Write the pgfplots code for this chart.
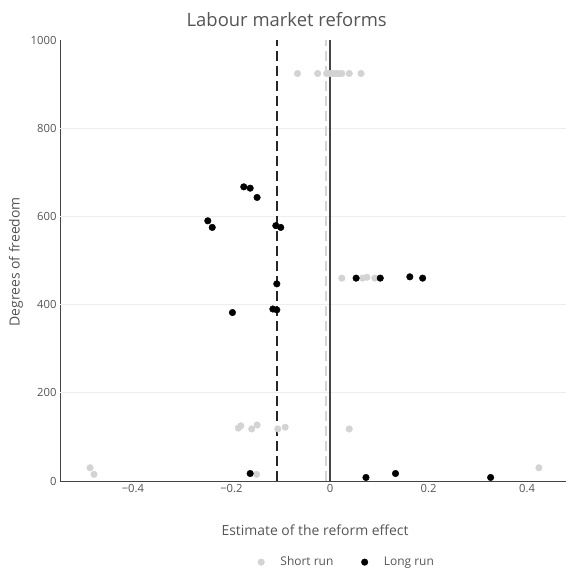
\documentclass[border=0pt]{standalone}
\usepackage{pgfplots}
\pgfplotsset{compat=1.18}
\usepackage{fontspec}
\setmainfont{Open Sans}
\definecolor{txt}{HTML}{555555}
\definecolor{lg}{HTML}{D3D3D3}
\definecolor{axc}{HTML}{444444}
\definecolor{gridc}{HTML}{EEEEEE}
\begin{document}
\begin{tikzpicture}
\path[use as bounding box] (0,0) rectangle (566bp,572bp);
\begin{axis}[
  at={(60bp,91bp)}, anchor=south west, scale only axis,
  width=506bp, height=441bp,
  xmin=-0.548, xmax=0.479, ymin=0, ymax=1000,
  axis x line=bottom, axis y line=left,
  axis line style={axc, line width=0.9pt, -},
  xtick={-0.4,-0.2,0,0.2,0.4},
  xticklabels={−0.4,−0.2,0,0.2,0.4},
  ytick={0,200,400,600,800,1000},
  yticklabels={0,200,400,600,800,1000},
  major tick length=0pt,
  /pgf/number format/assume math mode=true,
  tick label style={font=\fontsize{11.3}{13}\selectfont, text=txt},
  extra y ticks={200,400,600,800},
  extra y tick labels={},
  extra y tick style={grid=major, major grid style={gridc, line width=0.8pt}},
  clip=false,
  title={Labour market reforms},
  title style={at={(axis description cs:0.448,1.032)}, anchor=center, font=\fontsize{18.5}{21}\selectfont, text=txt},
  xlabel={Estimate of the reform effect},
  xlabel style={at={(axis description cs:0.504,-0.111)}, anchor=center, font=\fontsize{14}{17}\selectfont, text=txt},
  ylabel={Degrees of freedom},
  ylabel style={at={(axis description cs:-0.087,0.497)}, anchor=center, rotate=0, font=\fontsize{14}{17}\selectfont, text=txt},
  legend style={at={(axis description cs:0.567,-0.184)}, anchor=center, draw=none, fill=none,
    legend columns=2, font=\fontsize{12}{15}\selectfont, text=txt,
    /tikz/every odd column/.append style={column sep=14bp},
    /tikz/every even column/.append style={column sep=26bp}},
  legend cell align=left,
]
% short run
\addplot[only marks, mark=*, mark size=3.3bp, color=lg] coordinates {
(-0.066,924) (-0.025,924) (-0.007,924) (-0.002,924) (0.003,924) (0.008,924) (0.013,924) (0.018,924) (0.024,924) (0.039,924) (0.063,924)
(0.024,460) (0.066,460) (0.075,462) (0.091,460)
(-0.186,120) (-0.181,125) (-0.159,118) (-0.148,127) (-0.106,118) (-0.091,122) (0.039,118)
(-0.487,30) (-0.479,15) (-0.149,15) (0.424,30)
};
\addlegendentry{Short run}
% reference lines
\addplot[forget plot, draw=lg, line width=1.5pt, dash pattern=on 10bp off 5bp] coordinates {(-0.008,0) (-0.008,1000)};
\addplot[forget plot, draw=black!85, line width=1.5pt, dash pattern=on 10bp off 5bp] coordinates {(-0.108,0) (-0.108,1000)};
\addplot[forget plot, draw=axc, line width=1.5pt] coordinates {(0,0) (0,1000)};
% long run
\addplot[only marks, mark=*, mark size=3.3bp, color=black] coordinates {
(-0.175,667) (-0.162,664) (-0.148,643) (-0.248,590) (-0.239,575) (-0.110,579) (-0.100,575)
(-0.108,447) (-0.116,390) (-0.108,388) (-0.198,382) (-0.162,17)
(0.053,460) (0.102,460) (0.162,463) (0.188,460)
(0.073,8) (0.133,17) (0.326,8)
};
\addlegendentry{Long run}
\end{axis}
\end{tikzpicture}
\end{document}
